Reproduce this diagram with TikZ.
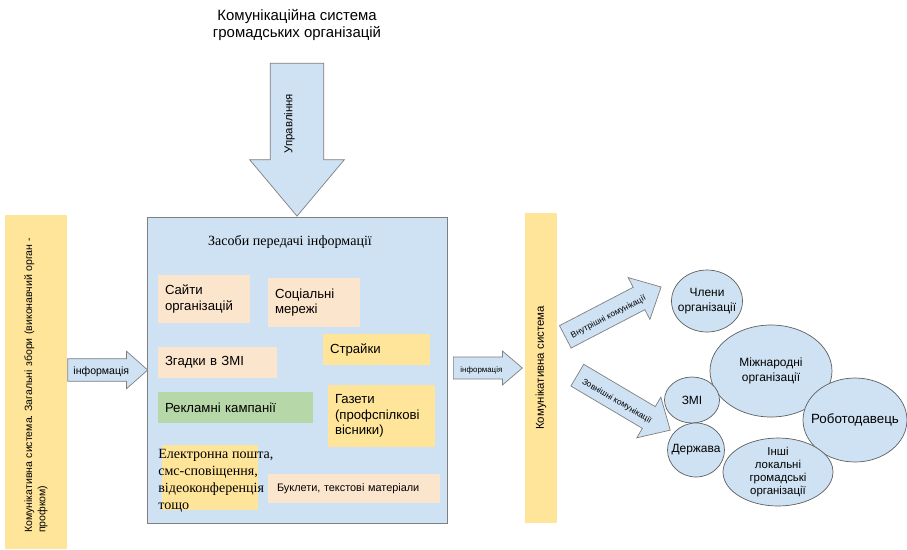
\documentclass[tikz,border=0pt]{standalone}
\usepackage{fontspec}
\setmainfont{Liberation Sans}
\newfontfamily\timesfont{Liberation Serif}
\usepackage{tikz}
\usetikzlibrary{shapes}
\usetikzlibrary{shapes.arrows}
\usetikzlibrary{shapes.geometric}
\frenchspacing
\definecolor{barYellow}{HTML}{FFE599}
\definecolor{boxBlue}{HTML}{CFE2F3}
\definecolor{boxPeach}{HTML}{FCE5CD}
\definecolor{boxGreen}{HTML}{B6D7A8}
\definecolor{lineGray}{HTML}{7F7F7F}
\definecolor{ovalGray}{HTML}{5F5F5F}
\tikzset{myboxPeach/.style={fill=boxPeach, align=left, inner xsep=0.14cm, font=\fontsize{7.5}{9}\selectfont}}
\tikzset{myboxYellow/.style={fill=barYellow, align=left, inner xsep=0.14cm, font=\fontsize{7.5}{9}\selectfont}}
\tikzset{myboxGreen/.style={fill=boxGreen, align=left, inner xsep=0.14cm, font=\fontsize{7.5}{9}\selectfont}}
\tikzset{sideBar/.style={fill=barYellow, rotate=90, inner sep=0pt}}
\tikzset{blockArrow/.style={single arrow, draw=lineGray, fill=boxBlue, inner xsep=1pt, text height=0.75em, text depth=0.22em}}
\tikzset{bubble/.style={ellipse, draw=ovalGray, fill=boxBlue, align=center, inner xsep=-0.2cm, inner ysep=-0.1cm, font=\fontsize{6.8}{8.2}\selectfont}}

\begin{document}
\begin{tikzpicture}[x=0.02cm, y=-0.02cm]

\useasboundingbox (0,0) rectangle (907,549);

\node[align=center, font=\fontsize{8.5}{10}\selectfont] (title) at (297,25) {Комунікаційна система\\громадських організацій};

\node[sideBar, minimum width=6.68cm, minimum height=1.24cm, inner xsep=0.32cm, text width=6.04cm, align=left, font=\fontsize{6}{7.5}\selectfont] (leftbar) at (36,382) {Комунікативна система. Загальні збори (виконавчий орган -\\профком)};

\node[draw=lineGray, fill=boxBlue, minimum width=6cm, minimum height=6.12cm] (mainbox) at (297,370) {};
\node[font=\timesfont\fontsize{8}{9.5}\selectfont] (maintitle) at (290,242) {Засоби передачі інформації};

\node[sideBar, minimum width=6.2cm, minimum height=0.64cm, font=\fontsize{6.5}{8}\selectfont] (rightbar) at (541,368) {Комунікативна система};

% arrows between the parts
\node[blockArrow, rotate=-90, anchor=tip, minimum height=3.06cm, inner ysep=0.359cm, single arrow head extend=0.41cm, single arrow tip angle=80, font=\fontsize{6.5}{8}\selectfont] (control) at (mainbox.north) {\rotatebox{180}{Управління}};
\node[blockArrow, anchor=tail, minimum height=1.6cm, inner ysep=0.048cm, single arrow head extend=0.15cm, single arrow tip angle=83, font=\fontsize{6}{7}\selectfont] (infoL) at (leftbar.south |- mainbox.west) {інформація};
\node[blockArrow, anchor=tail, minimum height=1.38cm, inner ysep=0.043cm, single arrow head extend=0.12cm, single arrow tip angle=81, font=\fontsize{4.5}{5}\selectfont] (infoR) at (453,368) {інформація};
\node[blockArrow, anchor=tail, rotate=27.5, minimum height=2.16cm, inner ysep=0.075cm, single arrow head extend=0.22cm, single arrow tip angle=87, font=\fontsize{4.8}{5.5}\selectfont] (inner) at (565,337) {Внутрішні комунікації};
\node[blockArrow, anchor=tail, rotate=-30.6, minimum height=2.16cm, inner ysep=0.075cm, single arrow head extend=0.22cm, single arrow tip angle=87, font=\fontsize{4.8}{5.5}\selectfont] (outer) at (577,375) {Зовнішні комунікації};

% means of transfer
\node[myboxPeach, minimum width=1.84cm, minimum height=0.96cm, text width=1.56cm] (sites) at (204,299) {Сайти\\організацій};
\node[myboxPeach, minimum width=1.84cm, minimum height=0.98cm, text width=1.56cm] (social) at (314,302.5) {Соціальні\\мережі};
\node[myboxYellow, minimum width=2.14cm, minimum height=0.62cm, text width=1.86cm] (strikes) at (376.5,349.5) {Страйки};
\node[myboxPeach, minimum width=2.38cm, minimum height=0.62cm, text width=2.10cm] (media) at (217.5,362.5) {Згадки в ЗМІ};
\node[myboxGreen, minimum width=3.1cm, minimum height=0.62cm, text width=2.82cm] (ads) at (235.5,407.5) {Рекламні кампанії};
\node[myboxYellow, minimum width=2.14cm, minimum height=1.24cm, text width=1.86cm] (papers) at (381.5,416) {Газети\\(профспілкові\\вісники)};
\node[fill=barYellow, minimum width=1.92cm, minimum height=1.3cm] (emailbg) at (210,477.5) {};
\node[anchor=west, align=left, inner sep=0pt, font=\timesfont\fontsize{8}{9.7}\selectfont] (email) at (158,481) {Електронна пошта,\\смс-сповіщення,\\відеоконференція\\тощо};
\node[myboxPeach, minimum width=3.44cm, minimum height=0.58cm, inner xsep=0.18cm, text width=3.08cm, font=\fontsize{6.2}{7.5}\selectfont] (booklets) at (354,488.5) {Буклети, текстові матеріали};

% audiences
\node[bubble, minimum width=1.42cm, minimum height=1.24cm] (members) at (707,301) {Члени\\організації};
\node[bubble, minimum width=2.44cm, minimum height=1.84cm] (intl) at (771,371) {Міжнародні\\організації};
\node[bubble, minimum width=1.10cm, minimum height=0.92cm] (smi) at (692,400) {ЗМІ};
\node[bubble, minimum width=2.08cm, minimum height=1.68cm, font=\fontsize{7.6}{9}\selectfont] (employer) at (855,420) {Роботодавець};
\node[bubble, minimum width=1.14cm, minimum height=1.08cm] (state) at (696,450) {Держава};
\node[bubble, minimum width=2.20cm, minimum height=1.36cm, font=\fontsize{6.5}{7.4}\selectfont] (others) at (778,472) {Інші\\локальні\\громадські\\організації};

\end{tikzpicture}
\end{document}
